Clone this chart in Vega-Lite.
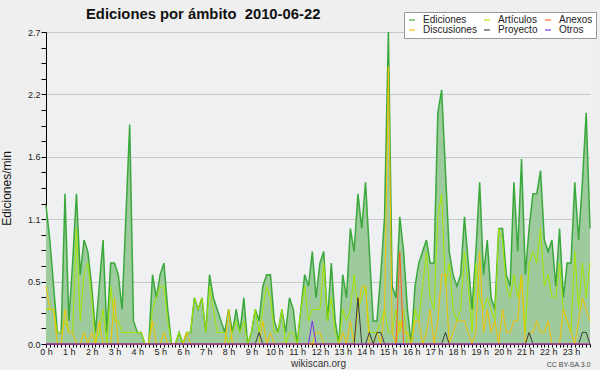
{
"$schema":"https://vega.github.io/schema/vega-lite/v6.json",
"width":544,"height":312,
"autosize":{"type":"none"},
"padding":{"left":46,"top":32,"right":10,"bottom":26},
"background":"#efefef",
"config":{"font":"Liberation Sans","view":{"stroke":null,"fill":"#eef0f1"}},
"title":{"text":"Ediciones por ámbito\u00a0 2010-06-22","anchor":"start","frame":"group","dx":40,"offset":-10,"fontSize":14.8,"fontWeight":"bold","font":"Liberation Sans","color":"#111"},
"data":{"values":[
{"i":0,"ed":1.2,"art":0.3,"disc":0.5,"proy":0,"anex":0,"otros":0},
{"i":1,"ed":0.9,"art":0.3,"disc":0.3,"proy":0,"anex":0,"otros":0},
{"i":2,"ed":0.5,"art":0.3,"disc":0.3,"proy":0,"anex":0,"otros":0},
{"i":3,"ed":0.1,"art":0.1,"disc":0,"proy":0,"anex":0,"otros":0},
{"i":4,"ed":0.1,"art":0.1,"disc":0,"proy":0,"anex":0,"otros":0},
{"i":5,"ed":1.3,"art":0.2,"disc":0.3,"proy":0,"anex":0,"otros":0},
{"i":6,"ed":0.2,"art":0.1,"disc":0.1,"proy":0,"anex":0,"otros":0},
{"i":7,"ed":0.7,"art":0.1,"disc":0.1,"proy":0,"anex":0,"otros":0},
{"i":8,"ed":1.3,"art":1.0,"disc":0,"proy":0,"anex":0,"otros":0},
{"i":9,"ed":0.6,"art":0.2,"disc":0,"proy":0,"anex":0,"otros":0},
{"i":10,"ed":0.9,"art":0.6,"disc":0.1,"proy":0,"anex":0,"otros":0},
{"i":11,"ed":0.8,"art":0.7,"disc":0,"proy":0,"anex":0,"otros":0},
{"i":12,"ed":0.5,"art":0.4,"disc":0.1,"proy":0,"anex":0,"otros":0},
{"i":13,"ed":0.1,"art":0,"disc":0,"proy":0,"anex":0,"otros":0},
{"i":14,"ed":0.5,"art":0.1,"disc":0.2,"proy":0,"anex":0,"otros":0},
{"i":15,"ed":0.9,"art":0.3,"disc":0,"proy":0,"anex":0,"otros":0},
{"i":16,"ed":0.1,"art":0,"disc":0,"proy":0,"anex":0,"otros":0},
{"i":17,"ed":0.7,"art":0.5,"disc":0,"proy":0,"anex":0,"otros":0},
{"i":18,"ed":0.7,"art":0.2,"disc":0.4,"proy":0,"anex":0,"otros":0},
{"i":19,"ed":0.6,"art":0.2,"disc":0,"proy":0,"anex":0,"otros":0},
{"i":20,"ed":0.3,"art":0.1,"disc":0,"proy":0,"anex":0,"otros":0},
{"i":21,"ed":1.1,"art":0.1,"disc":0,"proy":0,"anex":0,"otros":0},
{"i":22,"ed":1.9,"art":0.1,"disc":0,"proy":0,"anex":0,"otros":0},
{"i":23,"ed":0.2,"art":0.1,"disc":0,"proy":0,"anex":0,"otros":0},
{"i":24,"ed":0.1,"art":0.1,"disc":0,"proy":0,"anex":0,"otros":0},
{"i":25,"ed":0.1,"art":0.1,"disc":0,"proy":0,"anex":0,"otros":0},
{"i":26,"ed":0,"art":0,"disc":0,"proy":0,"anex":0,"otros":0},
{"i":27,"ed":0,"art":0,"disc":0,"proy":0,"anex":0,"otros":0},
{"i":28,"ed":0.6,"art":0.3,"disc":0.2,"proy":0,"anex":0,"otros":0},
{"i":29,"ed":0.4,"art":0.4,"disc":0,"proy":0,"anex":0,"otros":0},
{"i":30,"ed":0.6,"art":0.5,"disc":0,"proy":0,"anex":0,"otros":0},
{"i":31,"ed":0.7,"art":0.5,"disc":0.1,"proy":0,"anex":0,"otros":0},
{"i":32,"ed":0.3,"art":0.2,"disc":0,"proy":0,"anex":0,"otros":0},
{"i":33,"ed":0,"art":0,"disc":0,"proy":0,"anex":0,"otros":0},
{"i":34,"ed":0,"art":0,"disc":0,"proy":0,"anex":0,"otros":0},
{"i":35,"ed":0.1,"art":0.1,"disc":0,"proy":0,"anex":0,"otros":0},
{"i":36,"ed":0,"art":0,"disc":0,"proy":0,"anex":0,"otros":0},
{"i":37,"ed":0.1,"art":0.1,"disc":0.1,"proy":0,"anex":0,"otros":0},
{"i":38,"ed":0.1,"art":0.1,"disc":0,"proy":0,"anex":0,"otros":0},
{"i":39,"ed":0.4,"art":0.4,"disc":0,"proy":0,"anex":0,"otros":0},
{"i":40,"ed":0.3,"art":0.3,"disc":0,"proy":0,"anex":0,"otros":0},
{"i":41,"ed":0.4,"art":0.4,"disc":0,"proy":0,"anex":0,"otros":0},
{"i":42,"ed":0.1,"art":0.1,"disc":0,"proy":0,"anex":0,"otros":0},
{"i":43,"ed":0.6,"art":0.5,"disc":0,"proy":0,"anex":0,"otros":0},
{"i":44,"ed":0.4,"art":0.3,"disc":0,"proy":0,"anex":0,"otros":0},
{"i":45,"ed":0.3,"art":0.1,"disc":0,"proy":0,"anex":0,"otros":0},
{"i":46,"ed":0.2,"art":0.1,"disc":0,"proy":0,"anex":0,"otros":0},
{"i":47,"ed":0.1,"art":0.1,"disc":0,"proy":0,"anex":0,"otros":0},
{"i":48,"ed":0.3,"art":0,"disc":0.3,"proy":0,"anex":0,"otros":0},
{"i":49,"ed":0.1,"art":0.1,"disc":0,"proy":0,"anex":0,"otros":0},
{"i":50,"ed":0.3,"art":0.2,"disc":0,"proy":0,"anex":0,"otros":0},
{"i":51,"ed":0.1,"art":0.1,"disc":0,"proy":0,"anex":0,"otros":0},
{"i":52,"ed":0.4,"art":0.2,"disc":0,"proy":0,"anex":0,"otros":0},
{"i":53,"ed":0,"art":0,"disc":0,"proy":0,"anex":0,"otros":0},
{"i":54,"ed":0.1,"art":0.1,"disc":0,"proy":0,"anex":0,"otros":0},
{"i":55,"ed":0.3,"art":0.3,"disc":0,"proy":0,"anex":0,"otros":0},
{"i":56,"ed":0.2,"art":0.1,"disc":0,"proy":0.1,"anex":0,"otros":0},
{"i":57,"ed":0.5,"art":0.3,"disc":0.2,"proy":0,"anex":0,"otros":0},
{"i":58,"ed":0.6,"art":0.5,"disc":0,"proy":0,"anex":0,"otros":0},
{"i":59,"ed":0.6,"art":0.4,"disc":0.1,"proy":0,"anex":0,"otros":0},
{"i":60,"ed":0.2,"art":0.1,"disc":0,"proy":0,"anex":0,"otros":0},
{"i":61,"ed":0.1,"art":0.1,"disc":0,"proy":0,"anex":0,"otros":0},
{"i":62,"ed":0.3,"art":0.3,"disc":0,"proy":0,"anex":0,"otros":0},
{"i":63,"ed":0.1,"art":0,"disc":0,"proy":0,"anex":0,"otros":0},
{"i":64,"ed":0.4,"art":0.1,"disc":0,"proy":0,"anex":0,"otros":0},
{"i":65,"ed":0.3,"art":0.1,"disc":0,"proy":0,"anex":0,"otros":0},
{"i":66,"ed":0,"art":0,"disc":0,"proy":0,"anex":0,"otros":0},
{"i":67,"ed":0.3,"art":0.3,"disc":0,"proy":0,"anex":0,"otros":0},
{"i":68,"ed":0.6,"art":0.5,"disc":0,"proy":0,"anex":0,"otros":0},
{"i":69,"ed":0.5,"art":0.2,"disc":0,"proy":0,"anex":0,"otros":0},
{"i":70,"ed":0.8,"art":0.3,"disc":0,"proy":0,"anex":0,"otros":0.2},
{"i":71,"ed":0.4,"art":0.3,"disc":0.1,"proy":0,"anex":0,"otros":0},
{"i":72,"ed":0.7,"art":0.3,"disc":0.1,"proy":0,"anex":0,"otros":0},
{"i":73,"ed":0.8,"art":0.7,"disc":0,"proy":0,"anex":0,"otros":0},
{"i":74,"ed":0.2,"art":0.2,"disc":0,"proy":0,"anex":0,"otros":0},
{"i":75,"ed":0.7,"art":0.4,"disc":0,"proy":0,"anex":0,"otros":0},
{"i":76,"ed":0.2,"art":0.1,"disc":0,"proy":0,"anex":0,"otros":0},
{"i":77,"ed":0,"art":0,"disc":0,"proy":0,"anex":0,"otros":0},
{"i":78,"ed":0.6,"art":0.3,"disc":0.1,"proy":0,"anex":0,"otros":0},
{"i":79,"ed":0.4,"art":0.2,"disc":0,"proy":0,"anex":0,"otros":0},
{"i":80,"ed":1.0,"art":0.3,"disc":0.2,"proy":0,"anex":0,"otros":0},
{"i":81,"ed":0.8,"art":0.6,"disc":0,"proy":0,"anex":0,"otros":0},
{"i":82,"ed":1.3,"art":0.3,"disc":0.3,"proy":0.4,"anex":0,"otros":0},
{"i":83,"ed":1.0,"art":0.4,"disc":0.5,"proy":0,"anex":0,"otros":0},
{"i":84,"ed":1.4,"art":0.5,"disc":0.5,"proy":0,"anex":0,"otros":0},
{"i":85,"ed":0.8,"art":0.1,"disc":0,"proy":0.1,"anex":0,"otros":0},
{"i":86,"ed":0.2,"art":0.1,"disc":0,"proy":0,"anex":0,"otros":0},
{"i":87,"ed":0.2,"art":0.1,"disc":0.1,"proy":0.1,"anex":0,"otros":0},
{"i":88,"ed":0.6,"art":0.2,"disc":0,"proy":0.1,"anex":0,"otros":0},
{"i":89,"ed":1.1,"art":0.3,"disc":0.3,"proy":0,"anex":0,"otros":0},
{"i":90,"ed":2.7,"art":0.1,"disc":2.4,"proy":0,"anex":0,"otros":0},
{"i":91,"ed":0.5,"art":0.1,"disc":0.1,"proy":0,"anex":0,"otros":0},
{"i":92,"ed":0.4,"art":0.3,"disc":0,"proy":0,"anex":0,"otros":0},
{"i":93,"ed":1.1,"art":0.1,"disc":0.2,"proy":0,"anex":0.8,"otros":0},
{"i":94,"ed":0.8,"art":0.3,"disc":0.1,"proy":0,"anex":0,"otros":0},
{"i":95,"ed":0.3,"art":0,"disc":0.1,"proy":0,"anex":0,"otros":0},
{"i":96,"ed":0,"art":0,"disc":0,"proy":0,"anex":0,"otros":0},
{"i":97,"ed":0.5,"art":0.3,"disc":0.2,"proy":0,"anex":0,"otros":0},
{"i":98,"ed":0.7,"art":0.2,"disc":0.2,"proy":0,"anex":0,"otros":0},
{"i":99,"ed":0.8,"art":0.5,"disc":0,"proy":0,"anex":0,"otros":0},
{"i":100,"ed":0.9,"art":0.8,"disc":0.1,"proy":0,"anex":0,"otros":0},
{"i":101,"ed":0.7,"art":0.4,"disc":0.3,"proy":0,"anex":0,"otros":0},
{"i":102,"ed":0.7,"art":0.3,"disc":0,"proy":0,"anex":0,"otros":0},
{"i":103,"ed":2.0,"art":1.1,"disc":0.2,"proy":0,"anex":0,"otros":0},
{"i":104,"ed":2.2,"art":1.3,"disc":0.6,"proy":0,"anex":0,"otros":0},
{"i":105,"ed":1.5,"art":0.5,"disc":0.6,"proy":0.1,"anex":0,"otros":0},
{"i":106,"ed":0.8,"art":0.7,"disc":0,"proy":0,"anex":0,"otros":0},
{"i":107,"ed":0.6,"art":0.3,"disc":0.1,"proy":0,"anex":0,"otros":0},
{"i":108,"ed":0.5,"art":0.2,"disc":0.2,"proy":0,"anex":0,"otros":0},
{"i":109,"ed":0.6,"art":0.3,"disc":0.2,"proy":0,"anex":0,"otros":0},
{"i":110,"ed":1.1,"art":0.8,"disc":0.2,"proy":0,"anex":0,"otros":0},
{"i":111,"ed":0.7,"art":0.5,"disc":0.1,"proy":0,"anex":0,"otros":0},
{"i":112,"ed":0.3,"art":0.1,"disc":0,"proy":0,"anex":0,"otros":0},
{"i":113,"ed":0.8,"art":0.7,"disc":0.1,"proy":0,"anex":0,"otros":0},
{"i":114,"ed":1.4,"art":0.4,"disc":0.8,"proy":0,"anex":0,"otros":0},
{"i":115,"ed":0.6,"art":0.3,"disc":0.1,"proy":0,"anex":0,"otros":0},
{"i":116,"ed":0.9,"art":0.4,"disc":0.3,"proy":0,"anex":0,"otros":0},
{"i":117,"ed":0.4,"art":0.3,"disc":0.1,"proy":0,"anex":0,"otros":0},
{"i":118,"ed":0.3,"art":0.2,"disc":0.2,"proy":0,"anex":0,"otros":0},
{"i":119,"ed":1.0,"art":1.0,"disc":0,"proy":0,"anex":0,"otros":0},
{"i":120,"ed":1.0,"art":0.9,"disc":0.3,"proy":0,"anex":0,"otros":0},
{"i":121,"ed":0.6,"art":0.5,"disc":0.1,"proy":0,"anex":0,"otros":0},
{"i":122,"ed":0.5,"art":0.4,"disc":0.1,"proy":0,"anex":0,"otros":0},
{"i":123,"ed":1.4,"art":0.6,"disc":0.2,"proy":0,"anex":0,"otros":0},
{"i":124,"ed":0.8,"art":0.4,"disc":0.2,"proy":0,"anex":0,"otros":0},
{"i":125,"ed":1.6,"art":0.6,"disc":0.6,"proy":0,"anex":0,"otros":0},
{"i":126,"ed":0.6,"art":0.1,"disc":0,"proy":0,"anex":0,"otros":0},
{"i":127,"ed":1.0,"art":0.7,"disc":0.1,"proy":0.1,"anex":0,"otros":0},
{"i":128,"ed":1.3,"art":0.8,"disc":0.1,"proy":0,"anex":0,"otros":0},
{"i":129,"ed":1.3,"art":0.7,"disc":0.2,"proy":0,"anex":0,"otros":0},
{"i":130,"ed":1.5,"art":1.0,"disc":0.1,"proy":0,"anex":0,"otros":0},
{"i":131,"ed":0.9,"art":0.5,"disc":0.1,"proy":0,"anex":0,"otros":0},
{"i":132,"ed":0.8,"art":0.6,"disc":0.2,"proy":0,"anex":0,"otros":0},
{"i":133,"ed":0.9,"art":0.4,"disc":0,"proy":0,"anex":0,"otros":0},
{"i":134,"ed":0.5,"art":0.4,"disc":0,"proy":0,"anex":0,"otros":0},
{"i":135,"ed":1.0,"art":0.7,"disc":0,"proy":0,"anex":0,"otros":0},
{"i":136,"ed":0.4,"art":0.3,"disc":0.3,"proy":0,"anex":0,"otros":0},
{"i":137,"ed":0.7,"art":0.2,"disc":0.2,"proy":0,"anex":0,"otros":0},
{"i":138,"ed":0.7,"art":0.1,"disc":0.1,"proy":0,"anex":0,"otros":0},
{"i":139,"ed":1.4,"art":0.8,"disc":0,"proy":0,"anex":0,"otros":0},
{"i":140,"ed":0.9,"art":0.3,"disc":0.2,"proy":0,"anex":0,"otros":0},
{"i":141,"ed":1.4,"art":0.7,"disc":0.4,"proy":0.1,"anex":0,"otros":0},
{"i":142,"ed":2.0,"art":0.4,"disc":0.3,"proy":0.1,"anex":0,"otros":0},
{"i":143,"ed":1.0,"art":0.7,"disc":0.2,"proy":0,"anex":0,"otros":0}
]},
"layer":[
{"mark":{"type":"area","color":"#9ecb9d","opacity":1},
 "encoding":{
  "x":{"field":"i","type":"quantitative","scale":{"domain":[0,143],"nice":false,"zero":false},
   "axis":{"orient":"bottom","values":[0,6,12,18,24,30,36,42,48,54,60,66,72,78,84,90,96,102,108,114,120,126,132,138],"labelExpr":"(datum.value/6) + ' h'","tickSize":3,"tickColor":"#000","domainColor":"#000","labelFontSize":9,"labelColor":"#222","labelPadding":0,"labelFlush":false,"grid":false,"title":"wikiscan.org","titleFontSize":10,"titleFontWeight":"normal","titleColor":"#333","titlePadding":2}},
  "y":{"field":"ed","type":"quantitative","scale":{"domain":[0,2.7],"nice":false,"zero":true},
   "axis":{"orient":"left","values":[0,0.54,1.08,1.62,2.16,2.7],"format":".1f","grid":true,"gridColor":"#c8c8c8","domainColor":"#000","tickColor":"#000","tickSize":5,"labelFontSize":9,"labelColor":"#222","labelPadding":1,"title":"Ediciones/min","titleFontSize":12,"titleFontWeight":"normal","titleColor":"#111","titlePadding":14}}}},
{"mark":{"type":"line","strokeWidth":1.5},
 "encoding":{
  "x":{"field":"i","type":"quantitative","scale":{"domain":[0,143],"nice":false,"zero":false},
   "axis":{"orient":"bottom","values":[0,1,2,3,4,5,6,7,8,9,10,11,12,13,14,15,16,17,18,19,20,21,22,23,24,25,26,27,28,29,30,31,32,33,34,35,36,37,38,39,40,41,42,43,44,45,46,47,48,49,50,51,52,53,54,55,56,57,58,59,60,61,62,63,64,65,66,67,68,69,70,71,72,73,74,75,76,77,78,79,80,81,82,83,84,85,86,87,88,89,90,91,92,93,94,95,96,97,98,99,100,101,102,103,104,105,106,107,108,109,110,111,112,113,114,115,116,117,118,119,120,121,122,123,124,125,126,127,128,129,130,131,132,133,134,135,136,137,138,139,140,141,142,143],"tickSize":3,"tickColor":"#000","labels":false,"domain":false,"grid":false,"title":"CC BY-SA 3.0","titleAnchor":"end","titleFontSize":7,"titleFontWeight":"normal","titleColor":"#444","titlePadding":13}},
  "y":{"field":"ed","type":"quantitative","scale":{"domain":[0,2.7],"nice":false},
   "axis":{"orient":"left","values":[0.135,0.27,0.405,0.675,0.81,0.945,1.215,1.35,1.485,1.755,1.89,2.025,2.295,2.43,2.565],"tickSize":5,"tickColor":"#000","labels":false,"domain":false,"grid":false,"title":null}},
  "color":{"datum":"Ediciones","type":"nominal",
   "scale":{"domain":["Ediciones","Artículos","Anexos","Discusiones","Proyecto","Otros"],"range":["#3aa83a","#a6e600","#ff5a1f","#f5c400","#3a3a3a","#7a2ee8"]},
   "legend":{"orient":"none","legendX":358,"legendY":-20,"direction":"horizontal","columns":3,"title":null,"symbolType":"stroke","symbolSize":36,"symbolStrokeWidth":1.5,"symbolOpacity":0.75,"labelFontSize":10,"labelFont":"Liberation Sans","labelColor":"#222","labelOffset":6,"columnPadding":4,"rowPadding":0,"padding":3,"fillColor":"#ffffff","strokeColor":"#999999"}}}},
{"mark":{"type":"line","strokeWidth":1},
 "encoding":{"x":{"field":"i","type":"quantitative","axis":null},"y":{"field":"art","type":"quantitative","axis":null},"color":{"datum":"Artículos","type":"nominal"}}},
{"mark":{"type":"line","strokeWidth":1},
 "encoding":{"x":{"field":"i","type":"quantitative","axis":null},"y":{"field":"disc","type":"quantitative","axis":null},"color":{"datum":"Discusiones","type":"nominal"}}},
{"mark":{"type":"line","strokeWidth":1},
 "encoding":{"x":{"field":"i","type":"quantitative","axis":null},"y":{"field":"proy","type":"quantitative","axis":null},"color":{"datum":"Proyecto","type":"nominal"}}},
{"mark":{"type":"line","strokeWidth":1},
 "encoding":{"x":{"field":"i","type":"quantitative","axis":null},"y":{"field":"anex","type":"quantitative","axis":null},"color":{"datum":"Anexos","type":"nominal"}}},
{"mark":{"type":"line","strokeWidth":1},
 "encoding":{"x":{"field":"i","type":"quantitative","axis":null},"y":{"field":"otros","type":"quantitative","axis":null},"color":{"datum":"Otros","type":"nominal"}}}
],
"resolve":{"axis":{"x":"independent","y":"independent"}}
}
